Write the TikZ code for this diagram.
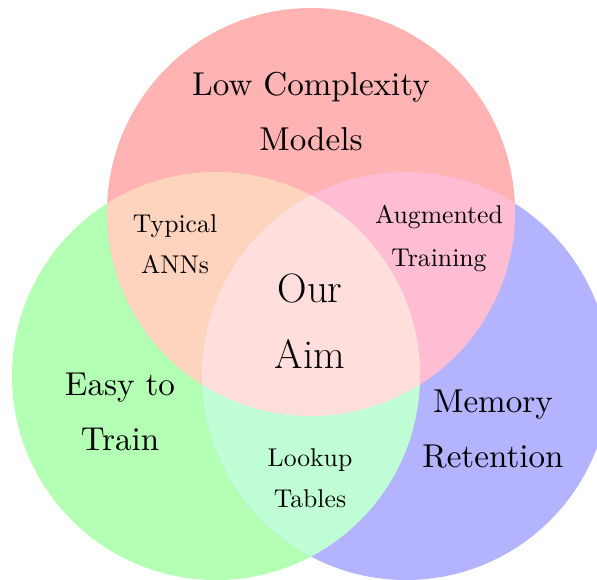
\documentclass[tikz,border=0pt]{standalone}
\definecolor{cR}{HTML}{FFB3B3}
\definecolor{cG}{HTML}{B3FFB3}
\definecolor{cB}{HTML}{B3B3FF}
\definecolor{cRG}{HTML}{FFD4BF}
\definecolor{cRB}{HTML}{FFBDD4}
\definecolor{cGB}{HTML}{C0FFD6}
\definecolor{cC}{HTML}{FFDEDC}
\begin{document}
\begin{tikzpicture}[x=1pt,y=-1pt,
  lab/.style={anchor=base,inner sep=0pt},
  bigfont/.style={font=\fontsize{10}{12}\selectfont,scale=3.31},
  hugefont/.style={font=\fontsize{41}{48}\selectfont},
  smallfont/.style={font=\fontsize{10}{12}\selectfont,scale=2.57}]
\useasboundingbox (0,0) rectangle (597,579);
\def\circR{(311,212) circle (204pt)}
\def\circG{(216,376) circle (204pt)}
\def\circB{(406,376) circle (204pt)}
\fill[cG] \circG;
\fill[cB] \circB;
\fill[cR] \circR;
\begin{scope}\clip \circR; \fill[cRG] \circG; \end{scope}
\begin{scope}\clip \circR; \fill[cRB] \circB; \end{scope}
\begin{scope}\clip \circG; \fill[cGB] \circB; \end{scope}
\begin{scope}\clip \circR; \clip \circG; \fill[cC] \circB; \end{scope}
% labels
\node[lab,bigfont] (lc1) at (311,95) {Low Complexity};
\node[lab,bigfont] (lc2) at (311,150) {Models};
\node[lab,bigfont] (et1) at (120,395) {Easy to};
\node[lab,bigfont] (et2) at (120,450) {Train};
\node[lab,bigfont] (mr1) at (493,412) {Memory};
\node[lab,bigfont] (mr2) at (493,467) {Retention};
\node[lab,hugefont] (oa1) at (310,302) {Our};
\node[lab,hugefont] (oa2) at (310,368) {Aim};
\node[lab,smallfont] (ta1) at (175,232) {Typical};
\node[lab,smallfont] (ta2) at (175,273) {ANNs};
\node[lab,smallfont] (at1) at (439,223) {Augmented};
\node[lab,smallfont] (at2) at (439,266) {Training};
\node[lab,smallfont] (lt1) at (310,466) {Lookup};
\node[lab,smallfont] (lt2) at (310,507) {Tables};
\end{tikzpicture}
\end{document}
